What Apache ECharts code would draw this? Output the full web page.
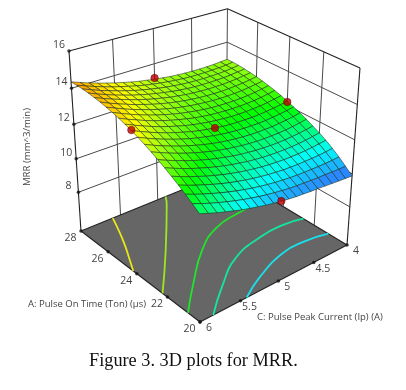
<!DOCTYPE html>
<html>
<head>
<meta charset="utf-8">
<style>html,body{margin:0;background:#fff}#chart{width:406px;height:390px}</style>
<script src="https://cdn.jsdelivr.net/npm/echarts@6/dist/echarts.min.js"></script>
</head>
<body>
<div id="chart"></div>
<script>
const timeTicks = [20, 22, 24, 26, 28];
const currentTicks = [6, 5.5, 5, 4.5, 4];
const mrrTicks = [8, 10, 12, 14, 16];
const floorMRR = 5.6;

// surface, rows follow gridCurrent, columns follow gridTime
const gridTime = [20, 20.4, 20.8, 21.2, 21.6, 22, 22.4, 22.8, 23.2, 23.6, 24, 24.4, 24.8, 25.2, 25.6, 26, 26.4, 26.8, 27.2, 27.6, 28];
const gridCurrent = [6, 5.9, 5.8, 5.7, 5.6, 5.5, 5.4, 5.3, 5.2, 5.1, 5, 4.9, 4.8, 4.7, 4.6, 4.5, 4.4, 4.3, 4.2, 4.1, 4];
const mrrGrid = [
  [11.60, 11.88, 12.14, 12.38, 12.61, 12.83, 13.03, 13.22, 13.40, 13.56, 13.70, 13.83, 13.95, 14.05, 14.13, 14.21, 14.26, 14.31, 14.34, 14.35, 14.35],
  [11.42, 11.69, 11.94, 12.18, 12.41, 12.62, 12.82, 13.01, 13.18, 13.34, 13.49, 13.62, 13.73, 13.84, 13.93, 14.00, 14.06, 14.11, 14.15, 14.17, 14.18],
  [11.25, 11.51, 11.76, 12.00, 12.22, 12.43, 12.63, 12.81, 12.98, 13.14, 13.29, 13.42, 13.54, 13.64, 13.73, 13.81, 13.88, 13.93, 13.97, 14.00, 14.01],
  [11.10, 11.35, 11.60, 11.83, 12.05, 12.25, 12.45, 12.63, 12.80, 12.96, 13.10, 13.23, 13.35, 13.46, 13.55, 13.64, 13.71, 13.76, 13.81, 13.84, 13.86],
  [10.95, 11.20, 11.44, 11.67, 11.88, 12.09, 12.28, 12.46, 12.63, 12.79, 12.93, 13.06, 13.18, 13.29, 13.39, 13.47, 13.55, 13.61, 13.66, 13.69, 13.72],
  [10.81, 11.06, 11.30, 11.52, 11.74, 11.94, 12.13, 12.31, 12.48, 12.63, 12.78, 12.91, 13.03, 13.14, 13.24, 13.33, 13.40, 13.46, 13.52, 13.56, 13.59],
  [10.69, 10.93, 11.17, 11.39, 11.60, 11.80, 11.99, 12.17, 12.34, 12.49, 12.64, 12.77, 12.89, 13.00, 13.10, 13.19, 13.27, 13.34, 13.39, 13.44, 13.47],
  [10.58, 10.82, 11.05, 11.27, 11.48, 11.68, 11.87, 12.04, 12.21, 12.37, 12.51, 12.64, 12.77, 12.88, 12.98, 13.07, 13.15, 13.22, 13.28, 13.32, 13.36],
  [10.47, 10.71, 10.94, 11.16, 11.37, 11.57, 11.76, 11.93, 12.10, 12.26, 12.40, 12.53, 12.66, 12.77, 12.87, 12.96, 13.05, 13.12, 13.18, 13.22, 13.26],
  [10.38, 10.62, 10.85, 11.07, 11.28, 11.48, 11.66, 11.84, 12.00, 12.16, 12.31, 12.44, 12.56, 12.68, 12.78, 12.87, 12.95, 13.03, 13.09, 13.14, 13.18],
  [10.30, 10.54, 10.77, 10.99, 11.20, 11.39, 11.58, 11.76, 11.92, 12.08, 12.23, 12.36, 12.48, 12.60, 12.70, 12.79, 12.88, 12.95, 13.01, 13.06, 13.10],
  [10.23, 10.47, 10.70, 10.92, 11.13, 11.33, 11.52, 11.69, 11.86, 12.01, 12.16, 12.30, 12.42, 12.53, 12.64, 12.73, 12.81, 12.88, 12.95, 13.00, 13.04],
  [10.17, 10.41, 10.65, 10.87, 11.08, 11.27, 11.46, 11.64, 11.81, 11.96, 12.11, 12.25, 12.37, 12.48, 12.59, 12.68, 12.76, 12.83, 12.89, 12.94, 12.98],
  [10.13, 10.37, 10.60, 10.82, 11.04, 11.24, 11.43, 11.60, 11.77, 11.93, 12.08, 12.21, 12.34, 12.45, 12.55, 12.64, 12.72, 12.79, 12.85, 12.90, 12.94],
  [10.09, 10.34, 10.57, 10.80, 11.01, 11.21, 11.40, 11.58, 11.75, 11.91, 12.06, 12.19, 12.32, 12.43, 12.53, 12.62, 12.70, 12.77, 12.83, 12.87, 12.91],
  [10.06, 10.31, 10.55, 10.78, 11.00, 11.20, 11.39, 11.58, 11.75, 11.90, 12.05, 12.19, 12.31, 12.42, 12.52, 12.61, 12.69, 12.76, 12.81, 12.86, 12.89],
  [10.02, 10.28, 10.54, 10.78, 11.00, 11.20, 11.40, 11.58, 11.75, 11.91, 12.06, 12.20, 12.32, 12.43, 12.53, 12.62, 12.69, 12.76, 12.81, 12.85, 12.88],
  [9.98, 10.27, 10.53, 10.78, 11.01, 11.22, 11.42, 11.60, 11.78, 11.94, 12.09, 12.22, 12.34, 12.45, 12.55, 12.64, 12.71, 12.77, 12.82, 12.86, 12.88],
  [9.94, 10.25, 10.53, 10.79, 11.04, 11.25, 11.45, 11.64, 11.82, 11.98, 12.13, 12.26, 12.38, 12.49, 12.59, 12.67, 12.74, 12.80, 12.84, 12.87, 12.89],
  [9.91, 10.23, 10.54, 10.82, 11.08, 11.30, 11.50, 11.69, 11.87, 12.03, 12.18, 12.32, 12.44, 12.55, 12.64, 12.72, 12.79, 12.84, 12.88, 12.90, 12.92],
  [9.88, 10.23, 10.57, 10.86, 11.13, 11.36, 11.56, 11.76, 11.94, 12.10, 12.25, 12.39, 12.51, 12.61, 12.70, 12.78, 12.84, 12.89, 12.93, 12.95, 12.95]
];

// design points [time, current, mrr]
const designPoints = [[28, 5, 13.17], [24, 6, 13.73], [24, 4, 12.2], [24, 5, 12.23], [20, 5, 10.31]];

// floor contours as [time, current]
const contourYellow = [[28, 5.6], [26.93, 5.7], [25.96, 5.8], [25.09, 5.9], [24.24, 6]];
const contourLime = [[28, 4.89], [27.39, 4.99], [24.6, 5.53], [22.31, 6]];
const contourGreen = [[25, 4], [24.87, 4.48], [24.56, 4.86], [23.64, 5.24], [21.98, 5.69], [20.72, 6]];
const contourTeal = [[22.68, 4], [22.89, 4.26], [22.82, 4.61], [22.3, 5.07], [21.22, 5.47], [20, 5.84]];
const contourCyan = [[21.12, 4], [21.37, 4.32], [21.32, 4.63], [20.67, 5.1], [20, 5.42]];

const mrrLevels = [10.1, 10.85, 11.4, 12.1, 13, 13.6, 14.35];
const mrrColors = ["#2a88ff", "#00ffff", "#00ff90", "#00ff00", "#a0ff10", "#ffff00", "#ffa000"];

// camera, fitted to the box corners of the picture
function project(time, current, mrr) {
  const a = (time - 20) / 8;
  const c = (6 - current) / 2;
  const h = (mrr - floorMRR) / (16 - floorMRR);
  const w = 1 + 0.1311 * a + 0.1406 * c - 0.0974 * h;
  return [
    (200 - 108.4 * a + 195.8 * c - 20.27 * h) / w,
    (322 - 60.7 * a - 42.6 * c - 208.5 * h) / w
  ];
}

function mrrColor(v) {
  for (let i = 1; i < mrrLevels.length; i++) {
    if (v <= mrrLevels[i]) {
      const f = (v - mrrLevels[i - 1]) / (mrrLevels[i] - mrrLevels[i - 1]);
      return echarts.color.lerp(Math.max(f, 0), [mrrColors[i - 1], mrrColors[i]]);
    }
  }
  return mrrColors[mrrColors.length - 1];
}

const wallSegments = [];
const edgeSegments = [];
function seg(list, p, q) {
  const a = project(p[0], p[1], p[2]);
  const b = project(q[0], q[1], q[2]);
  list.push([a[0], a[1], b[0], b[1]]);
}
mrrTicks.forEach(function (z) {
  seg(z === 16 ? edgeSegments : wallSegments, [28, 6, z], [28, 4, z]);
  seg(z === 16 ? edgeSegments : wallSegments, [28, 4, z], [20, 4, z]);
});
currentTicks.slice(1, 4).forEach(function (v) {
  seg(wallSegments, [28, v, floorMRR], [28, v, 16]);
});
timeTicks.slice(1, 4).forEach(function (v) {
  seg(wallSegments, [v, 4, floorMRR], [v, 4, 16]);
});
seg(edgeSegments, [28, 6, floorMRR], [28, 6, 16]);
seg(edgeSegments, [20, 4, floorMRR], [20, 4, 16]);
seg(wallSegments, [28, 4, floorMRR], [28, 4, 16]);
seg(edgeSegments, [28, 6, floorMRR], [20, 6, floorMRR]);
seg(edgeSegments, [20, 6, floorMRR], [20, 4, floorMRR]);
seg(edgeSegments, [20, 4, floorMRR], [28, 4, floorMRR]);
seg(edgeSegments, [28, 4, floorMRR], [28, 6, floorMRR]);

// far cells first so nearer ones paint over them
const cells = [];
for (let i = gridTime.length - 2; i >= 0; i--) {
  for (let j = gridCurrent.length - 2; j >= 0; j--) {
    const corners = [
      project(gridTime[i], gridCurrent[j], mrrGrid[j][i]),
      project(gridTime[i + 1], gridCurrent[j], mrrGrid[j][i + 1]),
      project(gridTime[i + 1], gridCurrent[j + 1], mrrGrid[j + 1][i + 1]),
      project(gridTime[i], gridCurrent[j + 1], mrrGrid[j + 1][i])
    ];
    const mean = (mrrGrid[j][i] + mrrGrid[j][i + 1] + mrrGrid[j + 1][i + 1] + mrrGrid[j + 1][i]) / 4;
    cells.push([].concat(corners[0], corners[1], corners[2], corners[3], mean));
  }
}

const labels = [];
mrrTicks.forEach(function (z) {
  labels.push({ text: String(z), at: project(28, 6, z), dx: -10, dy: -6 });
});
timeTicks.forEach(function (v) {
  labels.push({ text: String(v), at: project(v, 6, floorMRR), dx: -10.5, dy: 7 });
});
currentTicks.forEach(function (v) {
  labels.push({ text: String(v), at: project(20, v, floorMRR), dx: 9, dy: 6.5 });
});

const tickDots = labels.map(function (l) { return l.at; });

function segmentSeries(data, color, width, z) {
  return {
    type: "custom", coordinateSystem: "cartesian2d", silent: true, clip: false, z: z,
    data: data,
    renderItem: function (params, api) {
      const a = api.coord([api.value(0), api.value(1)]);
      const b = api.coord([api.value(2), api.value(3)]);
      return {
        type: "line",
        shape: { x1: a[0], y1: a[1], x2: b[0], y2: b[1] },
        style: { stroke: color, lineWidth: width }
      };
    }
  };
}

function contourSeries(points, color) {
  return {
    type: "line", smooth: true, showSymbol: false, silent: true, clip: false, z: 3,
    data: points.map(function (p) { return project(p[0], p[1], floorMRR); }),
    lineStyle: { color: color, width: 1.8 }
  };
}

const chart = echarts.init(document.getElementById("chart"));

chart.setOption({
  animation: false,
  backgroundColor: "#fff",
  grid: { left: 0, right: 0, top: 0, bottom: 0 },
  xAxis: { type: "value", min: 0, max: 406, show: false },
  yAxis: { type: "value", min: 0, max: 390, inverse: true, show: false },
  title: {
    text: "Figure 3. 3D plots for MRR.",
    left: 89, top: 352,
    textStyle: { fontFamily: "Liberation Serif", fontSize: 18.3, fontWeight: "normal", color: "#111" },
    padding: 0
  },
  graphic: [
    { type: "text", x: 27, y: 147, rotation: Math.PI / 2, style: { text: "MRR (mm^3/min)", font: "9.6px 'Open Sans'", fill: "#444", align: "center", verticalAlign: "middle" } },
    { type: "text", x: 28, y: 304, style: { text: "A: Pulse On Time (Ton) (µs)", font: "9.5px 'Open Sans'", fill: "#444", verticalAlign: "middle" } },
    { type: "text", x: 257, y: 317, style: { text: "C: Pulse Peak Current (Ip) (A)", font: "9.5px 'Open Sans'", fill: "#444", verticalAlign: "middle" } }
  ],
  series: [
    segmentSeries(wallSegments, "#4a4a4a", 1, 1),
    {
      type: "custom", coordinateSystem: "cartesian2d", silent: true, clip: false, z: 2,
      data: [[28, 6], [20, 6], [20, 4], [28, 4]].map(function (p) { return project(p[0], p[1], floorMRR); }),
      renderItem: function (params, api) {
        if (params.dataIndex !== 0) return null;
        const pts = [[28, 6], [20, 6], [20, 4], [28, 4]].map(function (p) { return api.coord(project(p[0], p[1], floorMRR)); });
        return { type: "polygon", shape: { points: pts }, style: { fill: "#666" } };
      }
    },
    segmentSeries(edgeSegments, "#222", 1.1, 2),
    contourSeries(contourYellow, "#e6e619"),
    contourSeries(contourLime, "#9ce81e"),
    contourSeries(contourGreen, "#1ee628"),
    contourSeries(contourTeal, "#14e69c"),
    contourSeries(contourCyan, "#19e0ea"),
    {
      type: "custom", coordinateSystem: "cartesian2d", silent: true, clip: false, z: 5,
      data: cells,
      renderItem: function (params, api) {
        const pts = [0, 2, 4, 6].map(function (k) {
          return api.coord([api.value(k), api.value(k + 1)]);
        });
        return {
          type: "polygon",
          shape: { points: pts },
          style: { fill: mrrColor(api.value(8)), stroke: "#1c2a1c", lineWidth: 0.55 }
        };
      }
    },
    {
      type: "scatter", silent: true, clip: false, z: 4,
      symbolSize: 3.5, itemStyle: { color: "#111" },
      data: tickDots
    },
    {
      type: "scatter", silent: true, clip: false, z: 6,
      symbolSize: 7.5, itemStyle: { color: "#b80000", borderColor: "#600", borderWidth: 0.6 },
      data: designPoints.map(function (p) { return project(p[0], p[1], p[2]); })
    },
    {
      type: "custom", coordinateSystem: "cartesian2d", silent: true, clip: false, z: 7,
      data: labels.map(function (l) { return l.at; }),
      renderItem: function (params, api) {
        const l = labels[params.dataIndex];
        const p = api.coord([api.value(0), api.value(1)]);
        return {
          type: "text",
          x: p[0] + l.dx, y: p[1] + l.dy,
          style: { text: l.text, font: "10.5px 'Open Sans'", fill: "#444", align: "center", verticalAlign: "middle" }
        };
      }
    }
  ]
});
</script>
</body>
</html>
